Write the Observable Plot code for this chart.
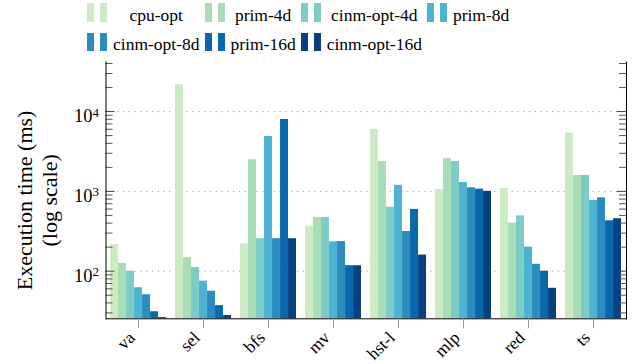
<!DOCTYPE html>
<html><head><meta charset="utf-8">
<script src="https://cdn.jsdelivr.net/npm/d3@7"></script>
<script src="https://cdn.jsdelivr.net/npm/@observablehq/plot@0.6"></script>
<style>
body{margin:0;background:#fff;font-family:"Liberation Serif","Tinos","Times New Roman","DejaVu Serif",serif;}
#legend{height:52px;box-sizing:border-box;padding:3px 0 0 87px;display:grid;grid-template-columns:repeat(4,auto);justify-content:start;row-gap:10px;font-size:17.5px;color:#000;}
.item{display:flex;align-items:center;height:18.5px;}
.sw{display:flex;gap:6px;width:20px;margin-right:6px;flex:none;}
.sw span{width:7px;height:18.5px;display:block}
.lab{flex:1;text-align:center;padding-right:5px;white-space:nowrap;position:relative;top:3px;}
#chart svg{display:block}
</style></head><body>
<div id="legend"></div><div id="chart"></div>
<script>
const categories = ["va","sel","bfs","mv","hst-l","mlp","red","ts"];
const series = ["cpu-opt","prim-4d","cinm-opt-4d","prim-8d","cinm-opt-8d","prim-16d","cinm-opt-16d"];
const cpuOpt     = [216, 21700, 220, 366, 5970, 1057, 1087, 5360];
const prim4d     = [125, 148, 2490, 471, 2370, 2580, 400, 1580];
const cinmOpt4d  = [100, 111, 255, 471, 634, 2370, 494, 1580];
const prim8d     = [62, 75, 4870, 233, 1190, 1290, 200, 769];
const cinmOpt8d  = [50.6, 56, 255, 235, 314, 1110, 122, 831];
const prim16d    = [31, 37, 7960, 117, 593, 1066, 100, 428];
const cinmOpt16d = [26.2, 27.8, 255, 117, 159, 1000, 61, 454];
const colors = ["#ccebc5","#a8ddb5","#7bccc4","#4eb3d3","#2b8cbe","#0868ac","#084081"];
const majorTicks = [100, 1000, 10000];
const minorTicks = [30,40,50,60,70,80,90,200,300,400,500,600,700,800,900,2000,3000,4000,5000,6000,7000,8000,9000,20000,30000,40000];
const yDomain = [25.3, 41800];
const yTitle = "Execution time (ms)\n(log scale)";

const values = [cpuOpt, prim4d, cinmOpt4d, prim8d, cinmOpt8d, prim16d, cinmOpt16d];
const rows = categories.flatMap((c, j) => series.map((s, i) => ({category: c, series: s, value: values[i][j]})));

// legend
const leg = document.getElementById("legend");
series.forEach((s, i) => {
  const it = document.createElement("div"); it.className = "item";
  const sw = document.createElement("div"); sw.className = "sw";
  for (let k = 0; k < 2; k++) { const b = document.createElement("span"); b.style.background = colors[i]; sw.appendChild(b); }
  const lb = document.createElement("span"); lb.className = "lab"; lb.textContent = s;
  it.appendChild(sw); it.appendChild(lb); leg.appendChild(it);
});

const W = 634, H = 312, mL = 105.5, mR = 8, mT = 9.5, mB = 45.7;
const plotW = W - mL - mR;
const xOpts = {type: "band", domain: categories, range: [mL, W - mR], paddingInner: 0.138, paddingOuter: 0.069};
const bw = Plot.scale({x: xOpts}).bandwidth / series.length;
const FF = "'Liberation Serif', Tinos, 'Times New Roman', 'DejaVu Serif', serif";

const chart = Plot.plot({
  width: W, height: H,
  marginLeft: mL, marginRight: mR, marginTop: mT, marginBottom: mB,
  style: {fontFamily: FF, fontSize: "17px", color: "#000", background: "#fff"},
  x: xOpts,
  y: {type: "log", domain: yDomain},
  marks: [
    Plot.ruleY(majorTicks, {stroke: "#999", strokeDasharray: "1.2,4.6", strokeWidth: 1}),
    ...series.map((s, i) => Plot.barY(rows.filter(d => d.series === s), {
      x: "category", y1: yDomain[0], y2: "value", fill: colors[i],
      insetLeft: i * bw, insetRight: (series.length - 1 - i) * bw
    })),
    Plot.tickY(majorTicks, {stroke: "#444", insetRight: plotW - 9}),
    Plot.tickY(minorTicks, {stroke: "#555", insetRight: plotW - 7}),
    Plot.tickY(majorTicks, {stroke: "#444", insetLeft: plotW - 9}),
    Plot.tickY(minorTicks, {stroke: "#555", insetLeft: plotW - 7}),
    Plot.frame({anchor: "left", stroke: "#000"}),
    Plot.frame({anchor: "right", stroke: "#000"}),
    Plot.frame({anchor: "bottom", stroke: "#000"}),
    Plot.axisY(majorTicks, {tickSize: 0, tickPadding: 7, dy: 5, fontSize: 18.5, fill: "#000",
      tickFormat: d => String(Math.round(Math.log10(d))), label: null}),
    Plot.axisX({tickSize: 10, stroke: "#999", tickFormat: () => "", label: null}),
    Plot.text(categories, {x: d => d, text: d => d, frameAnchor: "bottom", rotate: -45, textAnchor: "end",
      lineAnchor: "middle", dx: -6.5, dy: 16, fontSize: 17.5, fill: "#000", ariaLabel: "xlabels"}),
    Plot.text([yTitle], {frameAnchor: "left", textAnchor: "middle", rotate: -90, dx: -70, dy: 10, fontSize: 22, lineHeight: 1.14, fill: "#000"})
  ]
});

chart.querySelectorAll('g[aria-label="y-axis tick label"] text').forEach(t => {
  const e = t.textContent;
  t.textContent = "10";
  const sp = document.createElementNS("http://www.w3.org/2000/svg", "tspan");
  sp.setAttribute("dy", "-0.45em");
  sp.setAttribute("font-size", "13");
  sp.textContent = e;
  t.appendChild(sp);
});
document.getElementById("chart").appendChild(chart);
</script></body></html>
